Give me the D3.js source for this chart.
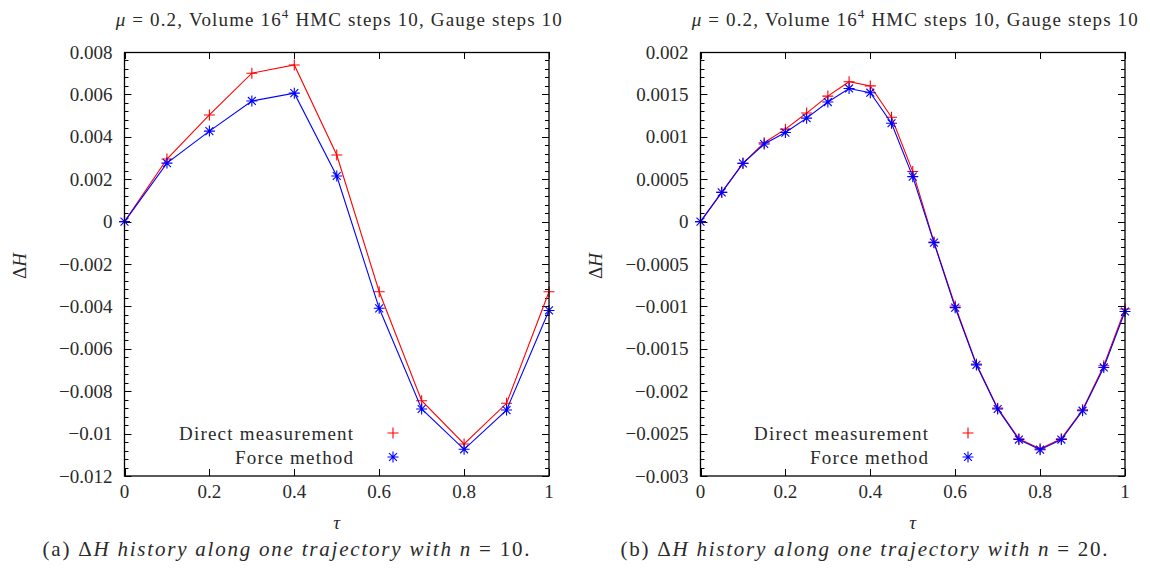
<!DOCTYPE html>
<html>
<head>
<meta charset="utf-8">
<script src="https://cdn.jsdelivr.net/npm/d3@7"></script>
<style>
  html, body { margin: 0; padding: 0; background: #fff; }
  svg { display: block; font-family: "Liberation Serif", "DejaVu Serif", serif; }
  .lbl { fill: #2a2a2a; font-size: 19px; }
</style>
</head>
<body>
<svg id="chart" width="1150" height="570"></svg>
<script>
// n = 10 trajectory
const tauA = [0, 0.1, 0.2, 0.3, 0.4, 0.5, 0.6, 0.7, 0.8, 0.9, 1.0];
const directA = [0, 0.00295, 0.00503, 0.0070, 0.00739, 0.00314, -0.00331, -0.00845, -0.01049, -0.00857, -0.00331];
const forceA = [0, 0.00276, 0.00427, 0.00569, 0.00606, 0.00215, -0.00409, -0.00884, -0.01074, -0.00889, -0.00419];

// n = 20 trajectory
const tauB = [0, 0.05, 0.1, 0.15, 0.2, 0.25, 0.3, 0.35, 0.4, 0.45, 0.5,
  0.55, 0.6, 0.65, 0.7, 0.75, 0.8, 0.85, 0.9, 0.95, 1.0];
const directB = [0, 0.000345, 0.000687, 0.00093, 0.00109, 0.00128, 0.00148, 0.00165, 0.0016, 0.00123, 0.00059,
  -0.00024, -0.000995, -0.00168, -0.0022, -0.00256, -0.00268, -0.00256, -0.00222, -0.0017, -0.00103];
const forceB = [0, 0.000345, 0.000687, 0.000915, 0.00105, 0.00122, 0.00141, 0.00157, 0.00152, 0.00116, 0.00053,
  -0.000248, -0.001015, -0.00169, -0.00221, -0.00257, -0.00269, -0.00257, -0.00223, -0.00172, -0.00106];

const xTicks = [0, 0.2, 0.4, 0.6, 0.8, 1];
const yTicksA = [0.008, 0.006, 0.004, 0.002, 0, -0.002, -0.004, -0.006, -0.008, -0.01, -0.012];
const yTicksB = [0.002, 0.0015, 0.001, 0.0005, 0, -0.0005, -0.001, -0.0015, -0.002, -0.0025, -0.003];

const legendLabels = ["Direct measurement", "Force method"];
const legendWidths = [174, 118];
const colors = { direct: "#ff0000", force: "#0000ff" };

const svg = d3.select("#chart");
const fmt = d3.format("~g");

function plusPath(s) {
  return `M${-s},0H${s}M0,${-s}V${s}`;
}
function starPath(s) {
  const d = s * 0.72;
  return `M${-s},0H${s}M0,${-s}V${s}M${-d},${-d}L${d},${d}M${-d},${d}L${d},${-d}`;
}

function drawPanel(cfg) {
  const g = svg.append("g");
  const x = d3.scaleLinear().domain([0, 1]).range([cfg.left, cfg.right]);
  const y = d3.scaleLinear().domain(cfg.yDomain).range([476, 52]);

  // minor y ticks (5 subdivisions)
  const minor = [];
  for (let i = 0; i < cfg.yTicks.length - 1; i++) {
    const a = cfg.yTicks[i], b = cfg.yTicks[i + 1];
    for (let k = 1; k < 5; k++) minor.push(a + (b - a) * k / 5);
  }

  const ticks = g.append("g").attr("stroke", "#000").attr("stroke-width", 1);
  cfg.yTicks.forEach((v) => {
    const yy = Math.round(y(v)) + 0.5;
    ticks.append("line").attr("x1", cfg.left).attr("x2", cfg.left + 7).attr("y1", yy).attr("y2", yy);
    ticks.append("line").attr("x1", cfg.right).attr("x2", cfg.right - 7).attr("y1", yy).attr("y2", yy);
  });
  minor.forEach((v) => {
    const yy = Math.round(y(v)) + 0.5;
    ticks.append("line").attr("x1", cfg.left).attr("x2", cfg.left + 4).attr("y1", yy).attr("y2", yy);
    ticks.append("line").attr("x1", cfg.right).attr("x2", cfg.right - 4).attr("y1", yy).attr("y2", yy);
  });
  xTicks.forEach((v) => {
    const xx = Math.round(x(v)) + 0.5;
    ticks.append("line").attr("x1", xx).attr("x2", xx).attr("y1", 476).attr("y2", 469);
    ticks.append("line").attr("x1", xx).attr("x2", xx).attr("y1", 52).attr("y2", 59);
  });

  // tick labels
  g.append("g").selectAll("text").data(cfg.yTicks).join("text")
    .attr("class", "lbl")
    .attr("x", cfg.left - 12)
    .attr("y", (v) => y(v))
    .attr("dy", "0.35em")
    .attr("text-anchor", "end")
    .text((v) => fmt(v));
  g.append("g").selectAll("text").data(xTicks).join("text")
    .attr("class", "lbl")
    .attr("x", (v) => x(v))
    .attr("y", 498)
    .attr("text-anchor", "middle")
    .text((v) => fmt(v));

  // series
  const line = d3.line().x((d) => x(d[0])).y((d) => y(d[1]));
  const series = [
    { vals: cfg.direct, color: colors.direct, shape: plusPath(5.5) },
    { vals: cfg.force, color: colors.force, shape: starPath(5.5) }
  ];
  series.forEach((s) => {
    const pts = cfg.tau.map((t, i) => [t, s.vals[i]]);
    g.append("path").datum(pts)
      .attr("fill", "none").attr("stroke", s.color).attr("stroke-width", 1.1)
      .attr("d", line);
    g.append("g").selectAll("path").data(pts).join("path")
      .attr("transform", (d) => `translate(${x(d[0])},${y(d[1])})`)
      .attr("d", s.shape)
      .attr("fill", "none").attr("stroke", s.color).attr("stroke-width", 1.1);
  });

  // legend
  legendLabels.forEach((lab, i) => {
    const ly = 433 + i * 24;
    g.append("text").attr("class", "lbl")
      .attr("x", cfg.legendX).attr("y", ly).attr("dy", "0.35em")
      .attr("text-anchor", "end")
      .attr("textLength", legendWidths[i]).attr("lengthAdjust", "spacing")
      .text(lab);
    g.append("path")
      .attr("transform", `translate(${cfg.legendX + 40},${ly})`)
      .attr("d", series[i].shape)
      .attr("fill", "none").attr("stroke", series[i].color).attr("stroke-width", 1.1);
  });

  // frame
  g.append("rect")
    .attr("x", cfg.left).attr("y", 52.5)
    .attr("width", cfg.right - cfg.left).attr("height", 423.5)
    .attr("fill", "none").attr("stroke", "#000").attr("stroke-width", 1.3);

  // title
  const title = g.append("text").attr("class", "lbl")
    .attr("x", (cfg.left + cfg.right) / 2 + 2).attr("y", 26).attr("text-anchor", "middle")
    .attr("textLength", 446).attr("lengthAdjust", "spacing");
  title.append("tspan").attr("font-style", "italic").text("μ");
  title.append("tspan").text(" = 0.2, Volume 16");
  title.append("tspan").attr("font-size", "13px").attr("dy", -8).text("4");
  title.append("tspan").attr("dy", 8).text(" HMC steps 10, Gauge steps 10");

  // axis labels
  const yl = g.append("text").attr("class", "lbl")
    .attr("transform", `translate(${cfg.left - 99},266) rotate(-90)`)
    .attr("text-anchor", "middle");
  yl.append("tspan").text("Δ");
  yl.append("tspan").attr("font-style", "italic").text("H");
  g.append("text").attr("class", "lbl")
    .attr("x", (cfg.left + cfg.right) / 2).attr("y", 529)
    .attr("text-anchor", "middle").attr("font-style", "italic").text("τ");

  // caption
  const cap = g.append("text").attr("class", "lbl")
    .style("font-size", "21px")
    .attr("x", cfg.captionX).attr("y", 556).attr("text-anchor", "middle")
    .attr("textLength", 487).attr("lengthAdjust", "spacing");
  cap.append("tspan").text(`(${cfg.letter}) Δ`);
  cap.append("tspan").attr("font-style", "italic").text("H history along one trajectory with n");
  cap.append("tspan").text(` = ${cfg.n}.`);
}

drawPanel({
  left: 124.5, right: 549, yDomain: [-0.012, 0.008], yTicks: yTicksA,
  tau: tauA, direct: directA, force: forceA, legendX: 353,
  captionX: 286, letter: "a", n: 10
});
drawPanel({
  left: 700.5, right: 1125, yDomain: [-0.003, 0.002], yTicks: yTicksB,
  tau: tauB, direct: directB, force: forceB, legendX: 928,
  captionX: 864, letter: "b", n: 20
});
</script>
</body>
</html>
